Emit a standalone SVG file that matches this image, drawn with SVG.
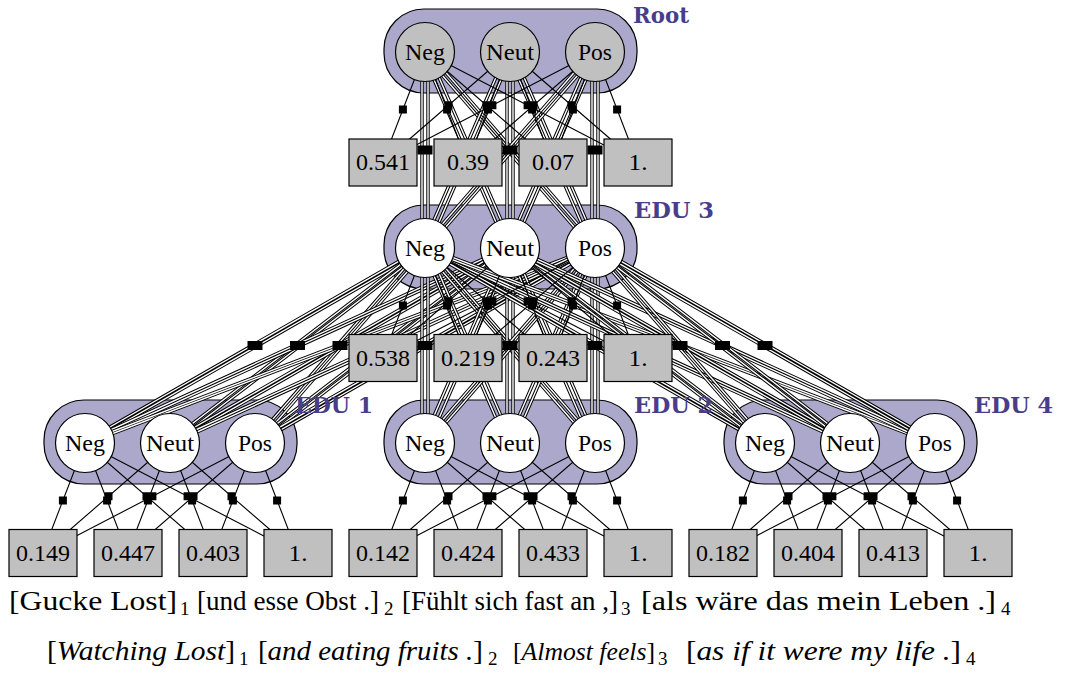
<svg xmlns="http://www.w3.org/2000/svg" width="1080" height="675" viewBox="0 0 1080 675">
<defs>
<style>
.clu{fill:#aca8cb;stroke:#000;stroke-width:1.2}
.v{stroke:#000;stroke-width:1.2}
.vg{fill:#c0c0c0}
.vw{fill:#fff}
.box{fill:#c0c0c0;stroke:#000;stroke-width:1.2}
.sl{stroke:#000;stroke-width:1.1;fill:none}
.do{stroke:#000;stroke-width:3.4;fill:none}
.di{stroke:#fff;stroke-width:1.4;fill:none}
.f{fill:#000}
.t{font-family:"Liberation Serif","DejaVu Serif",serif;font-size:23.5px;text-anchor:middle;fill:#000}
.lab{font-family:"DejaVu Serif","Liberation Serif",serif;font-weight:bold;font-size:22px;fill:#483d8b}
.s{font-family:"Liberation Serif","DejaVu Serif",serif;font-size:28px;fill:#000}
.it{font-style:italic}
.sb{font-size:19px}
</style>
<!-- single edges from the three variables of a layer to its four factor tables -->
<path id="fan" d="M0 0L-42.5 110.5M0 0L42.5 110.5M0 0L127.5 110.5M0 0L212.5 110.5M85 0L-42.5 110.5M85 0L42.5 110.5M85 0L127.5 110.5M85 0L212.5 110.5M170 0L-42.5 110.5M170 0L42.5 110.5M170 0L127.5 110.5M170 0L212.5 110.5"/>
<!-- factor squares sitting halfway along each fan edge -->
<path id="facs" d="M-26.1 53.5h8v8h-8zM18.1 53.5h8v8h-8zM57.5 49.3h8v8h-8zM98.6 49.3h8v8h-8zM19.5 49.3h8v8h-8zM58.9 53.5h8v8h-8zM103.1 53.5h8v8h-8zM142.5 49.3h8v8h-8zM63.4 49.3h8v8h-8zM104.5 49.3h8v8h-8zM143.9 53.5h8v8h-8zM188.1 53.5h8v8h-8z"/>
<!-- pairwise double edges: straight below -->
<g id="dv">
<path class="do" d="M-3 0V195.5M3 0V195.5"/><path class="di" d="M-3 0V195.5M3 0V195.5"/>
<path class="do" d="M-3 0L82 195.5M3 0L88 195.5"/><path class="di" d="M-3 0L82 195.5M3 0L88 195.5"/>
<path class="do" d="M-3 0L167 195.5M3 0L173 195.5"/><path class="di" d="M-3 0L167 195.5M3 0L173 195.5"/>
<path class="do" d="M82 0L-3 195.5M88 0L3 195.5"/><path class="di" d="M82 0L-3 195.5M88 0L3 195.5"/>
<path class="do" d="M82 0V195.5M88 0V195.5"/><path class="di" d="M82 0V195.5M88 0V195.5"/>
<path class="do" d="M82 0L167 195.5M88 0L173 195.5"/><path class="di" d="M82 0L167 195.5M88 0L173 195.5"/>
<path class="do" d="M167 0L-3 195.5M173 0L3 195.5"/><path class="di" d="M167 0L-3 195.5M173 0L3 195.5"/>
<path class="do" d="M167 0L82 195.5M173 0L88 195.5"/><path class="di" d="M167 0L82 195.5M173 0L88 195.5"/>
<path class="do" d="M167 0V195.5M173 0V195.5"/><path class="di" d="M167 0V195.5M173 0V195.5"/>
</g>
<!-- pairwise double edges: down to the left -->
<g id="dl">
<path class="do" d="M-3 0L-343 195M3 0L-337 195"/><path class="di" d="M-3 0L-343 195M3 0L-337 195"/>
<path class="do" d="M-3 0L-258 195M3 0L-252 195"/><path class="di" d="M-3 0L-258 195M3 0L-252 195"/>
<path class="do" d="M-3 0L-173 195M3 0L-167 195"/><path class="di" d="M-3 0L-173 195M3 0L-167 195"/>
<path class="do" d="M82 0L-343 195M88 0L-337 195"/><path class="di" d="M82 0L-343 195M88 0L-337 195"/>
<path class="do" d="M82 0L-258 195M88 0L-252 195"/><path class="di" d="M82 0L-258 195M88 0L-252 195"/>
<path class="do" d="M82 0L-173 195M88 0L-167 195"/><path class="di" d="M82 0L-173 195M88 0L-167 195"/>
<path class="do" d="M167 0L-343 195M173 0L-337 195"/><path class="di" d="M167 0L-343 195M173 0L-337 195"/>
<path class="do" d="M167 0L-258 195M173 0L-252 195"/><path class="di" d="M167 0L-258 195M173 0L-252 195"/>
<path class="do" d="M167 0L-173 195M173 0L-167 195"/><path class="di" d="M167 0L-173 195M173 0L-167 195"/>
</g>
<!-- pairwise double edges: down to the right -->
<g id="dr">
<path class="do" d="M-3 0L337 195M3 0L343 195"/><path class="di" d="M-3 0L337 195M3 0L343 195"/>
<path class="do" d="M-3 0L422 195M3 0L428 195"/><path class="di" d="M-3 0L422 195M3 0L428 195"/>
<path class="do" d="M-3 0L507 195M3 0L513 195"/><path class="di" d="M-3 0L507 195M3 0L513 195"/>
<path class="do" d="M82 0L337 195M88 0L343 195"/><path class="di" d="M82 0L337 195M88 0L343 195"/>
<path class="do" d="M82 0L422 195M88 0L428 195"/><path class="di" d="M82 0L422 195M88 0L428 195"/>
<path class="do" d="M82 0L507 195M88 0L513 195"/><path class="di" d="M82 0L507 195M88 0L513 195"/>
<path class="do" d="M167 0L337 195M173 0L343 195"/><path class="di" d="M167 0L337 195M173 0L343 195"/>
<path class="do" d="M167 0L422 195M173 0L428 195"/><path class="di" d="M167 0L422 195M173 0L428 195"/>
<path class="do" d="M167 0L507 195M173 0L513 195"/><path class="di" d="M167 0L507 195M173 0L513 195"/>
</g>
</defs>

<rect width="1080" height="675" fill="#fff"/>

<!-- layer groups -->
<g id="clusters">
<g id="cluster-root"><rect class="clu" x="384" y="9" width="253" height="84" rx="40"/></g>
<g id="cluster-edu3"><rect class="clu" x="384" y="205" width="253" height="84" rx="40"/></g>
<g id="cluster-edu1"><rect class="clu" x="44" y="400" width="253" height="84" rx="40"/></g>
<g id="cluster-edu2"><rect class="clu" x="384" y="400" width="253" height="84" rx="40"/></g>
<g id="cluster-edu4"><rect class="clu" x="724" y="400" width="253" height="84" rx="40"/></g>
</g>

<g id="connectors">
<use href="#dv" x="425" y="52"/>
<use href="#dl" x="425" y="248"/>
<use href="#dv" x="425" y="248"/>
<use href="#dr" x="425" y="248"/>
<g class="sl">
<use href="#fan" x="425" y="52"/>
<use href="#fan" x="425" y="248"/>
<use href="#fan" x="85" y="443"/>
<use href="#fan" x="425" y="443"/>
<use href="#fan" x="765" y="443"/>
</g>
<g id="factors" class="f">
<rect x="417.5" y="145.5" width="15" height="9"/>
<rect x="460" y="145.5" width="15" height="9"/>
<rect x="502.5" y="145.5" width="15" height="9"/>
<rect x="545" y="145.5" width="15" height="9"/>
<rect x="587.5" y="145.5" width="15" height="9"/>
<rect x="247.5" y="341" width="15" height="9"/>
<rect x="290" y="341" width="15" height="9"/>
<rect x="332.5" y="341" width="15" height="9"/>
<rect x="375" y="341" width="15" height="9"/>
<rect x="417.5" y="341" width="15" height="9"/>
<rect x="460" y="341" width="15" height="9"/>
<rect x="502.5" y="341" width="15" height="9"/>
<rect x="545" y="341" width="15" height="9"/>
<rect x="587.5" y="341" width="15" height="9"/>
<rect x="630" y="341" width="15" height="9"/>
<rect x="672.5" y="341" width="15" height="9"/>
<rect x="715" y="341" width="15" height="9"/>
<rect x="757.5" y="341" width="15" height="9"/>
<use href="#facs" x="425" y="52"/>
<use href="#facs" x="425" y="248"/>
<use href="#facs" x="85" y="443"/>
<use href="#facs" x="425" y="443"/>
<use href="#facs" x="765" y="443"/>
</g>
</g>

<!-- variable nodes -->
<g id="root-neg"><circle class="v vg" cx="425" cy="52" r="29.5"/><text class="t" x="425" y="59.5" textLength="40" lengthAdjust="spacingAndGlyphs">Neg</text></g>
<g id="root-neut"><circle class="v vg" cx="510" cy="52" r="29.5"/><text class="t" x="510" y="59.5" textLength="48" lengthAdjust="spacingAndGlyphs">Neut</text></g>
<g id="root-pos"><circle class="v vg" cx="595" cy="52" r="29.5"/><text class="t" x="595" y="59.5" textLength="34" lengthAdjust="spacingAndGlyphs">Pos</text></g>
<g id="edu3-neg"><circle class="v vw" cx="425" cy="248" r="29.5"/><text class="t" x="425" y="255.5" textLength="40" lengthAdjust="spacingAndGlyphs">Neg</text></g>
<g id="edu3-neut"><circle class="v vw" cx="510" cy="248" r="29.5"/><text class="t" x="510" y="255.5" textLength="48" lengthAdjust="spacingAndGlyphs">Neut</text></g>
<g id="edu3-pos"><circle class="v vw" cx="595" cy="248" r="29.5"/><text class="t" x="595" y="255.5" textLength="34" lengthAdjust="spacingAndGlyphs">Pos</text></g>
<g id="edu1-neg"><circle class="v vw" cx="85" cy="443" r="29.5"/><text class="t" x="85" y="450.5" textLength="40" lengthAdjust="spacingAndGlyphs">Neg</text></g>
<g id="edu1-neut"><circle class="v vw" cx="170" cy="443" r="29.5"/><text class="t" x="170" y="450.5" textLength="48" lengthAdjust="spacingAndGlyphs">Neut</text></g>
<g id="edu1-pos"><circle class="v vw" cx="255" cy="443" r="29.5"/><text class="t" x="255" y="450.5" textLength="34" lengthAdjust="spacingAndGlyphs">Pos</text></g>
<g id="edu2-neg"><circle class="v vw" cx="425" cy="443" r="29.5"/><text class="t" x="425" y="450.5" textLength="40" lengthAdjust="spacingAndGlyphs">Neg</text></g>
<g id="edu2-neut"><circle class="v vw" cx="510" cy="443" r="29.5"/><text class="t" x="510" y="450.5" textLength="48" lengthAdjust="spacingAndGlyphs">Neut</text></g>
<g id="edu2-pos"><circle class="v vw" cx="595" cy="443" r="29.5"/><text class="t" x="595" y="450.5" textLength="34" lengthAdjust="spacingAndGlyphs">Pos</text></g>
<g id="edu4-neg"><circle class="v vw" cx="765" cy="443" r="29.5"/><text class="t" x="765" y="450.5" textLength="40" lengthAdjust="spacingAndGlyphs">Neg</text></g>
<g id="edu4-neut"><circle class="v vw" cx="850" cy="443" r="29.5"/><text class="t" x="850" y="450.5" textLength="48" lengthAdjust="spacingAndGlyphs">Neut</text></g>
<g id="edu4-pos"><circle class="v vw" cx="935" cy="443" r="29.5"/><text class="t" x="935" y="450.5" textLength="34" lengthAdjust="spacingAndGlyphs">Pos</text></g>

<!-- factor tables -->
<g id="root-t1"><rect class="box" x="349" y="139" width="68" height="47"/><text class="t" x="383" y="170" textLength="54" lengthAdjust="spacingAndGlyphs">0.541</text></g>
<g id="root-t2"><rect class="box" x="434" y="139" width="68" height="47"/><text class="t" x="468" y="170" textLength="42" lengthAdjust="spacingAndGlyphs">0.39</text></g>
<g id="root-t3"><rect class="box" x="519" y="139" width="68" height="47"/><text class="t" x="553" y="170" textLength="42" lengthAdjust="spacingAndGlyphs">0.07</text></g>
<g id="root-t4"><rect class="box" x="604" y="139" width="68" height="47"/><text class="t" x="638" y="170" textLength="19" lengthAdjust="spacingAndGlyphs">1.</text></g>
<g id="edu3-t1"><rect class="box" x="349" y="334.5" width="68" height="47"/><text class="t" x="383" y="365.5" textLength="54" lengthAdjust="spacingAndGlyphs">0.538</text></g>
<g id="edu3-t2"><rect class="box" x="434" y="334.5" width="68" height="47"/><text class="t" x="468" y="365.5" textLength="54" lengthAdjust="spacingAndGlyphs">0.219</text></g>
<g id="edu3-t3"><rect class="box" x="519" y="334.5" width="68" height="47"/><text class="t" x="553" y="365.5" textLength="54" lengthAdjust="spacingAndGlyphs">0.243</text></g>
<g id="edu3-t4"><rect class="box" x="604" y="334.5" width="68" height="47"/><text class="t" x="638" y="365.5" textLength="19" lengthAdjust="spacingAndGlyphs">1.</text></g>
<g id="edu1-t1"><rect class="box" x="9" y="529.5" width="68" height="47"/><text class="t" x="43" y="560.5" textLength="54" lengthAdjust="spacingAndGlyphs">0.149</text></g>
<g id="edu1-t2"><rect class="box" x="94" y="529.5" width="68" height="47"/><text class="t" x="128" y="560.5" textLength="54" lengthAdjust="spacingAndGlyphs">0.447</text></g>
<g id="edu1-t3"><rect class="box" x="179" y="529.5" width="68" height="47"/><text class="t" x="213" y="560.5" textLength="54" lengthAdjust="spacingAndGlyphs">0.403</text></g>
<g id="edu1-t4"><rect class="box" x="264" y="529.5" width="68" height="47"/><text class="t" x="298" y="560.5" textLength="19" lengthAdjust="spacingAndGlyphs">1.</text></g>
<g id="edu2-t1"><rect class="box" x="349" y="529.5" width="68" height="47"/><text class="t" x="383" y="560.5" textLength="54" lengthAdjust="spacingAndGlyphs">0.142</text></g>
<g id="edu2-t2"><rect class="box" x="434" y="529.5" width="68" height="47"/><text class="t" x="468" y="560.5" textLength="54" lengthAdjust="spacingAndGlyphs">0.424</text></g>
<g id="edu2-t3"><rect class="box" x="519" y="529.5" width="68" height="47"/><text class="t" x="553" y="560.5" textLength="54" lengthAdjust="spacingAndGlyphs">0.433</text></g>
<g id="edu2-t4"><rect class="box" x="604" y="529.5" width="68" height="47"/><text class="t" x="638" y="560.5" textLength="19" lengthAdjust="spacingAndGlyphs">1.</text></g>
<g id="edu4-t1"><rect class="box" x="689" y="529.5" width="68" height="47"/><text class="t" x="723" y="560.5" textLength="54" lengthAdjust="spacingAndGlyphs">0.182</text></g>
<g id="edu4-t2"><rect class="box" x="774" y="529.5" width="68" height="47"/><text class="t" x="808" y="560.5" textLength="54" lengthAdjust="spacingAndGlyphs">0.404</text></g>
<g id="edu4-t3"><rect class="box" x="859" y="529.5" width="68" height="47"/><text class="t" x="893" y="560.5" textLength="54" lengthAdjust="spacingAndGlyphs">0.413</text></g>
<g id="edu4-t4"><rect class="box" x="944" y="529.5" width="68" height="47"/><text class="t" x="978" y="560.5" textLength="19" lengthAdjust="spacingAndGlyphs">1.</text></g>

<!-- layer names -->
<g id="labels">
<text class="lab" x="633" y="22.5" textLength="56" lengthAdjust="spacingAndGlyphs">Root</text>
<text class="lab" x="634" y="217.5" textLength="80" lengthAdjust="spacingAndGlyphs">EDU 3</text>
<text class="lab" x="295" y="413" textLength="78" lengthAdjust="spacingAndGlyphs">EDU 1</text>
<text class="lab" x="634" y="413" textLength="79" lengthAdjust="spacingAndGlyphs">EDU 2</text>
<text class="lab" x="974" y="413" textLength="79" lengthAdjust="spacingAndGlyphs">EDU 4</text>
</g>

<!-- segmented sentence and its translation -->
<g id="sentence-de" class="s">
<text x="9" y="610" textLength="168" lengthAdjust="spacingAndGlyphs">[Gucke Lost]</text><text class="sb" x="180" y="615">1</text>
<text x="197" y="610" textLength="182" lengthAdjust="spacingAndGlyphs">[und esse Obst .]</text><text class="sb" x="384" y="615">2</text>
<text x="402" y="610" font-size="27" textLength="216" lengthAdjust="spacingAndGlyphs">[Fühlt sich fast an ,]</text><text class="sb" x="621" y="615">3</text>
<text x="641" y="610" textLength="355" lengthAdjust="spacingAndGlyphs">[als wäre das mein Leben .]</text><text class="sb" x="1001" y="615">4</text>
</g>
<g id="sentence-en" class="s">
<text x="47" y="660" textLength="188" lengthAdjust="spacingAndGlyphs">[<tspan class="it">Watching Lost</tspan>]</text><text class="sb" x="239" y="665">1</text>
<text x="258" y="660" textLength="225" lengthAdjust="spacingAndGlyphs">[<tspan class="it">and eating fruits .</tspan>]</text><text class="sb" x="488" y="665">2</text>
<text x="513" y="660" font-size="26" textLength="142" lengthAdjust="spacingAndGlyphs">[<tspan class="it">Almost feels</tspan>]</text><text class="sb" x="658" y="665">3</text>
<text x="686" y="660" textLength="275" lengthAdjust="spacingAndGlyphs">[<tspan class="it">as if it were my life .</tspan>]</text><text class="sb" x="966" y="665">4</text>
</g>
</svg>
